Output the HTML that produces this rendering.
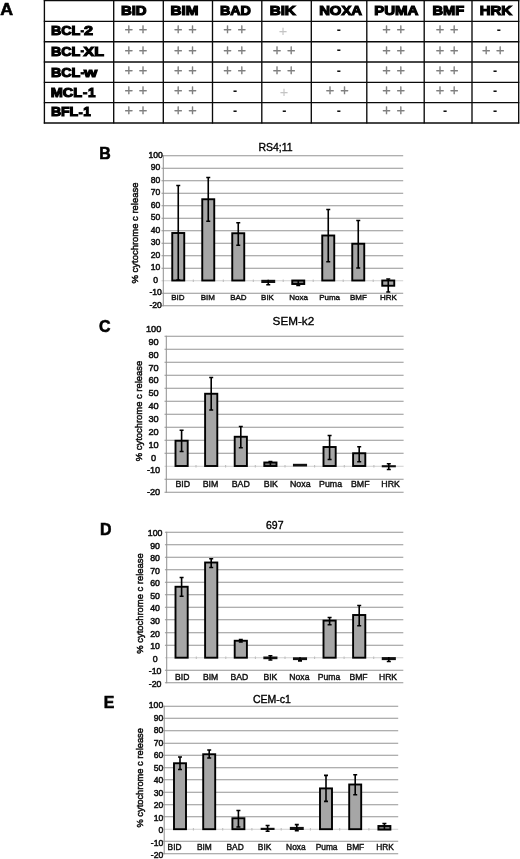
<!DOCTYPE html>
<html><head><meta charset="utf-8"><title>Figure</title>
<style>
html,body{margin:0;padding:0;background:#fff;}
body{width:520px;height:859px;overflow:hidden;}
svg{display:block;font-family:"Liberation Sans",Arial,sans-serif;}
.hd{font-weight:bold;font-size:13.5px;fill:#000;stroke:#000;stroke-width:1.15px;stroke-linejoin:miter;}
.hy{stroke-width:0.8px;}
.pl{font-size:14.6px;fill:#808080;stroke:#808080;stroke-width:0.3px;text-anchor:middle;}
.pll{font-size:14.6px;fill:#c4c4c4;text-anchor:middle;}
.mi{font-size:12.5px;font-weight:bold;fill:#111;text-anchor:middle;}
.pan{font-weight:bold;font-size:17.4px;fill:#000;stroke:#000;stroke-width:0.6px;}
.tt{fill:#000;text-anchor:middle;stroke:#000;stroke-width:0.35px;}
.yl{fill:#111;stroke:#111;stroke-width:0.5px;}
.xl{fill:#111;text-anchor:middle;stroke:#111;stroke-width:0.4px;}
.yt{fill:#111;text-anchor:middle;stroke:#111;stroke-width:0.5px;}
.g{stroke:#949494;stroke-width:1.05;fill:none;}
.z{stroke:#d0d0d0;stroke-width:1;fill:none;}
.bar{fill:#a6a6a6;stroke:#000;stroke-width:1.9;}
.eb{stroke:#000;stroke-width:1.6;fill:none;}
.tb{stroke:#0a0a0a;stroke-width:1.35;fill:none;}
</style></head><body>
<svg width="520" height="859" viewBox="0 0 520 859">
<rect width="520" height="859" fill="#fff"/>
<text class="pan" style="font-size:16.4px" x="0.2" y="14.8" textLength="12.8" lengthAdjust="spacingAndGlyphs">A</text>
<g class="tb">
<line x1="44.4" y1="0.0" x2="44.4" y2="123.6"/>
<line x1="113.7" y1="0.0" x2="113.7" y2="123.6"/>
<line x1="163.3" y1="0.0" x2="163.3" y2="123.6"/>
<line x1="212.5" y1="0.0" x2="212.5" y2="123.6"/>
<line x1="261.8" y1="0.0" x2="261.8" y2="123.6"/>
<line x1="311.3" y1="0.0" x2="311.3" y2="123.6"/>
<line x1="366.8" y1="0.0" x2="366.8" y2="123.6"/>
<line x1="424.2" y1="0.0" x2="424.2" y2="123.6"/>
<line x1="472" y1="0.0" x2="472" y2="123.6"/>
<line x1="518.7" y1="0.0" x2="518.7" y2="123.6"/>
<line x1="43.8" y1="0.6" x2="519.3000000000001" y2="0.6"/>
<line x1="43.8" y1="21.3" x2="519.3000000000001" y2="21.3"/>
<line x1="43.8" y1="41.7" x2="519.3000000000001" y2="41.7"/>
<line x1="43.8" y1="62" x2="519.3000000000001" y2="62"/>
<line x1="43.8" y1="82.4" x2="519.3000000000001" y2="82.4"/>
<line x1="43.8" y1="102.6" x2="519.3000000000001" y2="102.6"/>
<line x1="43.8" y1="123" x2="519.3000000000001" y2="123"/>
</g>
<text class="hd" x="120.9" y="15.2" textLength="25.7" lengthAdjust="spacingAndGlyphs">BID</text>
<text class="hd" x="170.4" y="15.2" textLength="27.95" lengthAdjust="spacingAndGlyphs">BIM</text>
<text class="hd" x="219.9" y="15.2" textLength="30.95" lengthAdjust="spacingAndGlyphs">BAD</text>
<text class="hd" x="269.65" y="15.2" textLength="26.2" lengthAdjust="spacingAndGlyphs">BIK</text>
<text class="hd" x="319.15" y="15.2" textLength="42.95" lengthAdjust="spacingAndGlyphs">NOXA</text>
<text class="hd" x="374.15" y="15.2" textLength="44.2" lengthAdjust="spacingAndGlyphs">PUMA</text>
<text class="hd" x="432.4" y="15.2" textLength="31.7" lengthAdjust="spacingAndGlyphs">BMF</text>
<text class="hd" x="479.65" y="15.2" textLength="32.45" lengthAdjust="spacingAndGlyphs">HRK</text>
<text class="hd" y="35.2"><tspan x="50.9" textLength="29.3" lengthAdjust="spacingAndGlyphs">BCL</tspan><tspan class="hy" x="80.45" y="34.5" textLength="3.5" lengthAdjust="spacingAndGlyphs">-</tspan><tspan x="84.0" y="35.2" textLength="9.0" lengthAdjust="spacingAndGlyphs">2</tspan></text>
<text class="hd" y="55.7"><tspan x="50.9" textLength="29.3" lengthAdjust="spacingAndGlyphs">BCL</tspan><tspan class="hy" x="80.45" y="55.0" textLength="3.5" lengthAdjust="spacingAndGlyphs">-</tspan><tspan x="83.6" y="55.7" textLength="20.4" lengthAdjust="spacingAndGlyphs">XL</tspan></text>
<text class="hd" y="76.9"><tspan x="50.9" textLength="29.3" lengthAdjust="spacingAndGlyphs">BCL</tspan><tspan class="hy" x="80.45" y="76.6" textLength="3.7" lengthAdjust="spacingAndGlyphs">-</tspan><tspan x="84.0" y="76.9" textLength="13.2" lengthAdjust="spacingAndGlyphs">w</tspan></text>
<text class="hd" y="97.0"><tspan x="50.8" textLength="31.4" lengthAdjust="spacingAndGlyphs">MCL</tspan><tspan class="hy" x="82.8" y="97.1" textLength="4.7" lengthAdjust="spacingAndGlyphs">-</tspan><tspan x="88.0" y="97.0" textLength="7.5" lengthAdjust="spacingAndGlyphs">1</tspan></text>
<text class="hd" y="116.4"><tspan x="50.9" textLength="27.3" lengthAdjust="spacingAndGlyphs">BFL</tspan><tspan class="hy" x="78.5" y="116.8" textLength="4.3" lengthAdjust="spacingAndGlyphs">-</tspan><tspan x="83.3" y="116.4" textLength="7.5" lengthAdjust="spacingAndGlyphs">1</tspan></text>
<text class="pl" x="128.75 135.875 143" y="34.4">+ +</text>
<text class="pl" x="128.75 135.875 143" y="54.6">+ +</text>
<text class="pl" x="128.75 135.875 143" y="75.19999999999999">+ +</text>
<text class="pl" x="128.75 135.875 143" y="95.3">+ +</text>
<text class="pl" x="128.75 135.875 143" y="115.3">+ +</text>
<text class="pl" x="178.25 185.375 192.5" y="34.4">+ +</text>
<text class="pl" x="178.25 185.375 192.5" y="54.6">+ +</text>
<text class="pl" x="178.25 185.375 192.5" y="75.19999999999999">+ +</text>
<text class="pl" x="178.25 185.375 192.5" y="95.3">+ +</text>
<text class="pl" x="178.25 185.375 192.5" y="115.3">+ +</text>
<text class="pl" x="227.5 234.625 241.75" y="34.4">+ +</text>
<text class="pl" x="227.5 234.625 241.75" y="54.6">+ +</text>
<text class="pl" x="227.5 234.625 241.75" y="75.19999999999999">+ +</text>
<text class="mi" x="235.2" y="95.0">-</text>
<text class="mi" x="235.2" y="115.0">-</text>
<text class="pll" x="283.0" y="36.2">+</text>
<text class="pl" x="277 284.125 291.25" y="54.6">+ +</text>
<text class="pl" x="277 284.125 291.25" y="75.19999999999999">+ +</text>
<text class="pll" x="284.0" y="97.1">+</text>
<text class="mi" x="284.4" y="115.0">-</text>
<text class="mi" x="338.9" y="34.1">-</text>
<text class="mi" x="338.9" y="54.3">-</text>
<text class="mi" x="338.9" y="74.89999999999999">-</text>
<text class="pl" x="330 337.25 344.5" y="95.3">+ +</text>
<text class="mi" x="338.9" y="115.0">-</text>
<text class="pl" x="386.5 393.625 400.75" y="34.4">+ +</text>
<text class="pl" x="386.5 393.625 400.75" y="54.6">+ +</text>
<text class="pl" x="386.5 393.625 400.75" y="75.19999999999999">+ +</text>
<text class="pl" x="386.5 393.625 400.75" y="95.3">+ +</text>
<text class="pl" x="386.5 393.625 400.75" y="115.3">+ +</text>
<text class="pl" x="440 447.125 454.25" y="34.4">+ +</text>
<text class="pl" x="440 447.125 454.25" y="54.6">+ +</text>
<text class="pl" x="440 447.125 454.25" y="75.19999999999999">+ +</text>
<text class="pl" x="440 447.125 454.25" y="95.3">+ +</text>
<text class="mi" x="445.1" y="115.0">-</text>
<text class="mi" x="498.8" y="34.1">-</text>
<text class="pl" x="486.25 493.25 500.25" y="54.6">+ +</text>
<text class="mi" x="495" y="74.89999999999999">-</text>
<text class="mi" x="495" y="95.0">-</text>
<text class="mi" x="495" y="115.0">-</text>
<g>
<text class="pan" x="99.2" y="158.5" textLength="11.5" lengthAdjust="spacingAndGlyphs">B</text>
<text class="tt" font-size="10.5" x="275.5" y="151.3">RS4;11</text>
<line class="g" x1="161.5" y1="155.75" x2="403.2" y2="155.75"/>
<line class="g" x1="161.5" y1="168.25" x2="403.2" y2="168.25"/>
<line class="g" x1="161.5" y1="180.75" x2="403.2" y2="180.75"/>
<line class="g" x1="161.5" y1="193.25" x2="403.2" y2="193.25"/>
<line class="g" x1="161.5" y1="205.75" x2="403.2" y2="205.75"/>
<line class="g" x1="161.5" y1="218.25" x2="403.2" y2="218.25"/>
<line class="g" x1="161.5" y1="230.75" x2="403.2" y2="230.75"/>
<line class="g" x1="161.5" y1="243.25" x2="403.2" y2="243.25"/>
<line class="g" x1="161.5" y1="255.75" x2="403.2" y2="255.75"/>
<line class="g" x1="161.5" y1="268.25" x2="403.2" y2="268.25"/>
<line class="z" x1="161.5" y1="280.75" x2="403.2" y2="280.75"/>
<line class="g" x1="161.5" y1="293.25" x2="403.2" y2="293.25"/>
<line class="g" x1="161.5" y1="305.75" x2="403.2" y2="305.75"/>
<line class="g" style="stroke:#bdbdbd" x1="193.3" y1="279.55" x2="193.3" y2="281.95"/>
<line class="g" style="stroke:#bdbdbd" x1="223.3" y1="279.55" x2="223.3" y2="281.95"/>
<line class="g" style="stroke:#bdbdbd" x1="253.3" y1="279.55" x2="253.3" y2="281.95"/>
<line class="g" style="stroke:#bdbdbd" x1="283.2" y1="279.55" x2="283.2" y2="281.95"/>
<line class="g" style="stroke:#bdbdbd" x1="313.2" y1="279.55" x2="313.2" y2="281.95"/>
<line class="g" style="stroke:#bdbdbd" x1="343.2" y1="279.55" x2="343.2" y2="281.95"/>
<line class="g" style="stroke:#bdbdbd" x1="373.2" y1="279.55" x2="373.2" y2="281.95"/>
<line class="g" x1="163.3" y1="155.25" x2="163.3" y2="306.25"/>
<text class="yl" text-anchor="middle" font-size="8.6" x="155.6" y="157.83">100</text>
<text class="yl" text-anchor="middle" font-size="8.6" x="155.6" y="170.33">90</text>
<text class="yl" text-anchor="middle" font-size="8.6" x="155.6" y="182.83">80</text>
<text class="yl" text-anchor="middle" font-size="8.6" x="155.6" y="195.33">70</text>
<text class="yl" text-anchor="middle" font-size="8.6" x="155.6" y="207.83">60</text>
<text class="yl" text-anchor="middle" font-size="8.6" x="155.6" y="220.33">50</text>
<text class="yl" text-anchor="middle" font-size="8.6" x="155.6" y="232.83">40</text>
<text class="yl" text-anchor="middle" font-size="8.6" x="155.6" y="245.33">30</text>
<text class="yl" text-anchor="middle" font-size="8.6" x="155.6" y="257.83">20</text>
<text class="yl" text-anchor="middle" font-size="8.6" x="155.6" y="270.33">10</text>
<text class="yl" text-anchor="middle" font-size="8.6" x="155.6" y="282.83">0</text>
<text class="yl" text-anchor="middle" font-size="8.6" x="155.6" y="295.33">-10</text>
<text class="yl" text-anchor="middle" font-size="8.6" x="155.6" y="307.83">-20</text>
<text class="yt" font-size="9.8" transform="translate(137.8,233) rotate(-90)" textLength="101" lengthAdjust="spacingAndGlyphs">% cytochrome c release</text>
<rect class="bar" x="172.25" y="233" width="12.0" height="47.5"/>
<path class="eb" d="M178.25 185.5V280.0M176.25 185.5H180.25M176.25 280.0H180.25"/>
<rect class="bar" x="202.25" y="199.25" width="12.0" height="81.25"/>
<path class="eb" d="M208.25 177.5V221.25M206.25 177.5H210.25M206.25 221.25H210.25"/>
<rect class="bar" x="232.25" y="233.25" width="12.0" height="47.25"/>
<path class="eb" d="M238.25 222.75V245.25M236.25 222.75H240.25M236.25 245.25H240.25"/>
<rect x="261.3" y="279.8" width="13.9" height="3.1999999999999886" fill="#111"/>
<path class="eb" d="M268.25 279.8V284.7M266.25 284.7H270.25"/>
<rect class="bar" style="fill:#777" x="292.25" y="280.5" width="12.0" height="3.5"/>
<path class="eb" d="M298.25 280.5V285.5M296.25 285.5H300.25"/>
<rect class="bar" x="322.25" y="235.5" width="12.0" height="45.0"/>
<path class="eb" d="M328.25 209.5V261.75M326.25 209.5H330.25M326.25 261.75H330.25"/>
<rect class="bar" x="352.25" y="243.75" width="12.0" height="36.75"/>
<path class="eb" d="M358.25 220.5V268M356.25 220.5H360.25M356.25 268H360.25"/>
<rect class="bar" x="382.25" y="280.5" width="12.0" height="5.25"/>
<path class="eb" d="M388.25 279V292M386.25 279H390.25M386.25 292H390.25"/>
<text class="xl" font-size="8.0" x="177.9" y="300.36">BID</text>
<text class="xl" font-size="8.0" x="207.9" y="300.36">BIM</text>
<text class="xl" font-size="8.0" x="238.4" y="300.36">BAD</text>
<text class="xl" font-size="8.0" x="267.5" y="300.36">BIK</text>
<text class="xl" font-size="8.0" x="298.6" y="300.36">Noxa</text>
<text class="xl" font-size="8.0" x="329.6" y="300.36">Puma</text>
<text class="xl" font-size="8.0" x="358.4" y="300.36">BMF</text>
<text class="xl" font-size="8.0" x="388.4" y="300.36">HRK</text>
</g>
<g>
<text class="pan" x="99.1" y="331.8" textLength="11.5" lengthAdjust="spacingAndGlyphs">C</text>
<text class="tt" font-size="11.7" x="293.4" y="325.1">SEM-k2</text>
<line class="g" x1="164.5" y1="336.25" x2="403.6" y2="336.25"/>
<line class="g" x1="164.5" y1="349.25" x2="403.6" y2="349.25"/>
<line class="g" x1="164.5" y1="362.25" x2="403.6" y2="362.25"/>
<line class="g" x1="164.5" y1="375.25" x2="403.6" y2="375.25"/>
<line class="g" x1="164.5" y1="388.25" x2="403.6" y2="388.25"/>
<line class="g" x1="164.5" y1="401.25" x2="403.6" y2="401.25"/>
<line class="g" x1="164.5" y1="414.25" x2="403.6" y2="414.25"/>
<line class="g" x1="164.5" y1="427.25" x2="403.6" y2="427.25"/>
<line class="g" x1="164.5" y1="440.25" x2="403.6" y2="440.25"/>
<line class="g" x1="164.5" y1="453.25" x2="403.6" y2="453.25"/>
<line class="z" x1="164.5" y1="466.25" x2="403.6" y2="466.25"/>
<line class="g" x1="164.5" y1="479.25" x2="403.6" y2="479.25"/>
<line class="g" x1="164.5" y1="492.25" x2="403.6" y2="492.25"/>
<line class="g" style="stroke:#bdbdbd" x1="196.0" y1="465.05" x2="196.0" y2="467.45"/>
<line class="g" style="stroke:#bdbdbd" x1="225.6" y1="465.05" x2="225.6" y2="467.45"/>
<line class="g" style="stroke:#bdbdbd" x1="255.3" y1="465.05" x2="255.3" y2="467.45"/>
<line class="g" style="stroke:#bdbdbd" x1="285.0" y1="465.05" x2="285.0" y2="467.45"/>
<line class="g" style="stroke:#bdbdbd" x1="314.6" y1="465.05" x2="314.6" y2="467.45"/>
<line class="g" style="stroke:#bdbdbd" x1="344.3" y1="465.05" x2="344.3" y2="467.45"/>
<line class="g" style="stroke:#bdbdbd" x1="373.9" y1="465.05" x2="373.9" y2="467.45"/>
<line class="g" x1="166.3" y1="335.75" x2="166.3" y2="492.75"/>
<text class="yl" text-anchor="middle" font-size="9.2" x="153.6" y="332.09">100</text>
<text class="yl" text-anchor="middle" font-size="9.2" x="153.6" y="344.94">90</text>
<text class="yl" text-anchor="middle" font-size="9.2" x="153.6" y="357.79">80</text>
<text class="yl" text-anchor="middle" font-size="9.2" x="153.6" y="370.64">70</text>
<text class="yl" text-anchor="middle" font-size="9.2" x="153.6" y="383.49">60</text>
<text class="yl" text-anchor="middle" font-size="9.2" x="153.6" y="396.34">50</text>
<text class="yl" text-anchor="middle" font-size="9.2" x="153.6" y="409.19">40</text>
<text class="yl" text-anchor="middle" font-size="9.2" x="153.6" y="422.04">30</text>
<text class="yl" text-anchor="middle" font-size="9.2" x="153.6" y="434.89">20</text>
<text class="yl" text-anchor="middle" font-size="9.2" x="153.6" y="447.74">10</text>
<text class="yl" text-anchor="middle" font-size="9.2" x="153.6" y="460.59">0</text>
<text class="yl" text-anchor="middle" font-size="9.2" x="153.6" y="473.44">-10</text>
<text class="yl" text-anchor="middle" font-size="9.2" x="153.6" y="494.99">-20</text>
<text class="yt" font-size="9.8" transform="translate(142,411) rotate(-90)" textLength="100.5" lengthAdjust="spacingAndGlyphs">% cytochrome c release</text>
<rect class="bar" x="175.5" y="440.75" width="12.2" height="25.25"/>
<path class="eb" d="M181.6 430.25V451.5M179.6 430.25H183.6M179.6 451.5H183.6"/>
<rect class="bar" x="205.1" y="393.75" width="12.2" height="72.25"/>
<path class="eb" d="M211.2 377.5V410M209.2 377.5H213.2M209.2 410H213.2"/>
<rect class="bar" x="234.70000000000002" y="436.75" width="12.2" height="29.25"/>
<path class="eb" d="M240.8 426.5V447.75M238.8 426.5H242.8M238.8 447.75H242.8"/>
<rect class="bar" style="fill:#777" x="264.29999999999995" y="462.5" width="12.2" height="3.5"/>
<path class="eb" d="M270.4 466.0V461.5M268.4 461.5H272.4"/>
<rect x="292.95" y="463.8" width="14.1" height="2.6999999999999886" fill="#111"/>
<rect class="bar" x="323.5" y="447" width="12.2" height="19"/>
<path class="eb" d="M329.6 435.5V459.5M327.6 435.5H331.6M327.6 459.5H331.6"/>
<rect class="bar" x="353.1" y="453.25" width="12.2" height="12.75"/>
<path class="eb" d="M359.20000000000005 446.75V461.75M357.20000000000005 446.75H361.20000000000005M357.20000000000005 461.75H361.20000000000005"/>
<rect x="381.75" y="465.2" width="14.1" height="2.1000000000000227" fill="#111"/>
<path class="eb" d="M388.8 463.75V469.5M386.8 463.75H390.8M386.8 469.5H390.8"/>
<text class="xl" font-size="8.8" x="182.75" y="487.45">BID</text>
<text class="xl" font-size="8.8" x="210.5" y="487.45">BIM</text>
<text class="xl" font-size="8.8" x="240.8" y="487.45">BAD</text>
<text class="xl" font-size="8.8" x="270.9" y="487.45">BIK</text>
<text class="xl" font-size="8.8" x="300.3" y="487.45">Noxa</text>
<text class="xl" font-size="8.8" x="330.6" y="487.45">Puma</text>
<text class="xl" font-size="8.8" x="360.25" y="487.45">BMF</text>
<text class="xl" font-size="8.8" x="390.6" y="487.45">HRK</text>
</g>
<g>
<text class="pan" x="100.1" y="535.0" textLength="11.5" lengthAdjust="spacingAndGlyphs">D</text>
<text class="tt" font-size="10.5" x="274.8" y="528.7">697</text>
<line class="g" x1="164.89999999999998" y1="532.25" x2="403.3" y2="532.25"/>
<line class="g" x1="164.89999999999998" y1="544.75" x2="403.3" y2="544.75"/>
<line class="g" x1="164.89999999999998" y1="557.25" x2="403.3" y2="557.25"/>
<line class="g" x1="164.89999999999998" y1="569.75" x2="403.3" y2="569.75"/>
<line class="g" x1="164.89999999999998" y1="582.25" x2="403.3" y2="582.25"/>
<line class="g" x1="164.89999999999998" y1="594.75" x2="403.3" y2="594.75"/>
<line class="g" x1="164.89999999999998" y1="607.25" x2="403.3" y2="607.25"/>
<line class="g" x1="164.89999999999998" y1="619.75" x2="403.3" y2="619.75"/>
<line class="g" x1="164.89999999999998" y1="632.75" x2="403.3" y2="632.75"/>
<line class="g" x1="164.89999999999998" y1="645.25" x2="403.3" y2="645.25"/>
<line class="z" x1="164.89999999999998" y1="657.75" x2="403.3" y2="657.75"/>
<line class="g" x1="164.89999999999998" y1="670.25" x2="403.3" y2="670.25"/>
<line class="g" x1="164.89999999999998" y1="682.75" x2="403.3" y2="682.75"/>
<line class="g" style="stroke:#bdbdbd" x1="196.3" y1="656.55" x2="196.3" y2="658.95"/>
<line class="g" style="stroke:#bdbdbd" x1="225.8" y1="656.55" x2="225.8" y2="658.95"/>
<line class="g" style="stroke:#bdbdbd" x1="255.4" y1="656.55" x2="255.4" y2="658.95"/>
<line class="g" style="stroke:#bdbdbd" x1="285.0" y1="656.55" x2="285.0" y2="658.95"/>
<line class="g" style="stroke:#bdbdbd" x1="314.6" y1="656.55" x2="314.6" y2="658.95"/>
<line class="g" style="stroke:#bdbdbd" x1="344.1" y1="656.55" x2="344.1" y2="658.95"/>
<line class="g" style="stroke:#bdbdbd" x1="373.7" y1="656.55" x2="373.7" y2="658.95"/>
<line class="g" x1="166.7" y1="531.75" x2="166.7" y2="683.25"/>
<text class="yl" text-anchor="middle" font-size="8.8" x="155.1" y="536.2">100</text>
<text class="yl" text-anchor="middle" font-size="8.8" x="155.1" y="548.7">90</text>
<text class="yl" text-anchor="middle" font-size="8.8" x="155.1" y="561.2">80</text>
<text class="yl" text-anchor="middle" font-size="8.8" x="155.1" y="573.7">70</text>
<text class="yl" text-anchor="middle" font-size="8.8" x="155.1" y="586.2">60</text>
<text class="yl" text-anchor="middle" font-size="8.8" x="155.1" y="598.7">50</text>
<text class="yl" text-anchor="middle" font-size="8.8" x="155.1" y="611.2">40</text>
<text class="yl" text-anchor="middle" font-size="8.8" x="155.1" y="623.7">30</text>
<text class="yl" text-anchor="middle" font-size="8.8" x="155.1" y="636.7">20</text>
<text class="yl" text-anchor="middle" font-size="8.8" x="155.1" y="649.2">10</text>
<text class="yl" text-anchor="middle" font-size="8.8" x="155.1" y="661.7">0</text>
<text class="yl" text-anchor="middle" font-size="8.8" x="155.1" y="674.2">-10</text>
<text class="yl" text-anchor="middle" font-size="8.8" x="155.1" y="686.7">-20</text>
<text class="yt" font-size="9.8" transform="translate(143.4,603.5) rotate(-90)" textLength="100.5" lengthAdjust="spacingAndGlyphs">% cytochrome c release</text>
<rect class="bar" x="175.5" y="586.75" width="12.2" height="70.95000000000005"/>
<path class="eb" d="M181.6 577.5V596.25M179.6 577.5H183.6M179.6 596.25H183.6"/>
<rect class="bar" x="205.1" y="562.5" width="12.2" height="95.20000000000005"/>
<path class="eb" d="M211.2 558.75V567.5M209.2 558.75H213.2M209.2 567.5H213.2"/>
<rect class="bar" x="234.70000000000002" y="640.75" width="12.2" height="16.950000000000045"/>
<path class="eb" d="M240.8 639.5V642M238.8 639.5H242.8M238.8 642H242.8"/>
<rect x="263.34999999999997" y="656.5" width="14.1" height="2.7000000000000455" fill="#111"/>
<path class="eb" d="M270.4 655.7V660.0M268.4 655.7H272.4M268.4 660.0H272.4"/>
<rect x="292.95" y="657.3" width="14.1" height="2.800000000000068" fill="#111"/>
<path class="eb" d="M300.0 657.3V660.9M298.0 660.9H302.0"/>
<rect class="bar" x="323.5" y="620.6" width="12.2" height="37.10000000000002"/>
<path class="eb" d="M329.6 617.5V624.8M327.6 617.5H331.6M327.6 624.8H331.6"/>
<rect class="bar" x="353.1" y="615" width="12.2" height="42.700000000000045"/>
<path class="eb" d="M359.20000000000005 605.5V625.75M357.20000000000005 605.5H361.20000000000005M357.20000000000005 625.75H361.20000000000005"/>
<rect x="381.75" y="657.1" width="14.1" height="3.0" fill="#111"/>
<path class="eb" d="M388.8 657.1V661.5M386.8 661.5H390.8"/>
<text class="xl" font-size="8.6" x="182.2" y="680.08">BID</text>
<text class="xl" font-size="8.6" x="210.6" y="680.08">BIM</text>
<text class="xl" font-size="8.6" x="239.4" y="680.08">BAD</text>
<text class="xl" font-size="8.6" x="270.4" y="680.08">BIK</text>
<text class="xl" font-size="8.6" x="299.4" y="680.08">Noxa</text>
<text class="xl" font-size="8.6" x="329" y="680.08">Puma</text>
<text class="xl" font-size="8.6" x="358.5" y="680.08">BMF</text>
<text class="xl" font-size="8.6" x="388" y="680.08">HRK</text>
</g>
<g>
<text class="pan" x="103.8" y="708.3" textLength="10.6" lengthAdjust="spacingAndGlyphs">E</text>
<text class="tt" font-size="10.5" x="272" y="703">CEM-c1</text>
<line class="g" x1="162.39999999999998" y1="706.25" x2="398.2" y2="706.25"/>
<line class="g" x1="162.39999999999998" y1="718.25" x2="398.2" y2="718.25"/>
<line class="g" x1="162.39999999999998" y1="730.75" x2="398.2" y2="730.75"/>
<line class="g" x1="162.39999999999998" y1="743.25" x2="398.2" y2="743.25"/>
<line class="g" x1="162.39999999999998" y1="755.25" x2="398.2" y2="755.25"/>
<line class="g" x1="162.39999999999998" y1="767.75" x2="398.2" y2="767.75"/>
<line class="g" x1="162.39999999999998" y1="779.75" x2="398.2" y2="779.75"/>
<line class="g" x1="162.39999999999998" y1="792.25" x2="398.2" y2="792.25"/>
<line class="g" x1="162.39999999999998" y1="804.75" x2="398.2" y2="804.75"/>
<line class="g" x1="162.39999999999998" y1="816.75" x2="398.2" y2="816.75"/>
<line class="z" x1="162.39999999999998" y1="829.25" x2="398.2" y2="829.25"/>
<line class="g" x1="162.39999999999998" y1="841.25" x2="398.2" y2="841.25"/>
<line class="g" x1="162.39999999999998" y1="853.75" x2="398.2" y2="853.75"/>
<line class="g" style="stroke:#bdbdbd" x1="193.4" y1="828.05" x2="193.4" y2="830.45"/>
<line class="g" style="stroke:#bdbdbd" x1="222.7" y1="828.05" x2="222.7" y2="830.45"/>
<line class="g" style="stroke:#bdbdbd" x1="251.9" y1="828.05" x2="251.9" y2="830.45"/>
<line class="g" style="stroke:#bdbdbd" x1="281.2" y1="828.05" x2="281.2" y2="830.45"/>
<line class="g" style="stroke:#bdbdbd" x1="310.4" y1="828.05" x2="310.4" y2="830.45"/>
<line class="g" style="stroke:#bdbdbd" x1="339.7" y1="828.05" x2="339.7" y2="830.45"/>
<line class="g" style="stroke:#bdbdbd" x1="368.9" y1="828.05" x2="368.9" y2="830.45"/>
<line class="g" x1="164.2" y1="705.75" x2="164.2" y2="854.25"/>
<text class="yl" text-anchor="end" font-size="8.6" x="163.2" y="708.18">100</text>
<text class="yl" text-anchor="end" font-size="8.6" x="163.2" y="720.68">90</text>
<text class="yl" text-anchor="end" font-size="8.6" x="163.2" y="733.18">80</text>
<text class="yl" text-anchor="end" font-size="8.6" x="163.2" y="745.68">70</text>
<text class="yl" text-anchor="end" font-size="8.6" x="163.2" y="758.18">60</text>
<text class="yl" text-anchor="end" font-size="8.6" x="163.2" y="770.68">50</text>
<text class="yl" text-anchor="end" font-size="8.6" x="163.2" y="783.18">40</text>
<text class="yl" text-anchor="end" font-size="8.6" x="163.2" y="795.68">30</text>
<text class="yl" text-anchor="end" font-size="8.6" x="163.2" y="808.18">20</text>
<text class="yl" text-anchor="end" font-size="8.6" x="163.2" y="820.68">10</text>
<text class="yl" text-anchor="end" font-size="8.6" x="163.2" y="833.18">0</text>
<text class="yl" text-anchor="end" font-size="8.6" x="163.2" y="845.68">-10</text>
<text class="yl" text-anchor="end" font-size="8.6" x="163.2" y="858.18">-20</text>
<text class="yt" font-size="9.8" transform="translate(142.6,777.8) rotate(-90)" textLength="99.5" lengthAdjust="spacingAndGlyphs">% cytochrome c release</text>
<rect class="bar" x="174.0" y="763.25" width="12.0" height="65.95000000000005"/>
<path class="eb" d="M180.0 757V769.5M178.0 757H182.0M178.0 769.5H182.0"/>
<rect class="bar" x="203.2" y="754.25" width="12.0" height="74.95000000000005"/>
<path class="eb" d="M209.2 750V758M207.2 750H211.2M207.2 758H211.2"/>
<rect class="bar" x="232.4" y="818.25" width="12.0" height="10.950000000000045"/>
<path class="eb" d="M238.4 810.5V827M236.4 810.5H240.4M236.4 827H240.4"/>
<rect x="260.65000000000003" y="827.8" width="13.9" height="2.2000000000000455" fill="#111"/>
<path class="eb" d="M267.6 825.5V831.3M265.6 825.5H269.6M265.6 831.3H269.6"/>
<rect x="289.85" y="826.9" width="13.9" height="3.1000000000000227" fill="#111"/>
<path class="eb" d="M296.8 824.6V830.6M294.8 824.6H298.8M294.8 830.6H298.8"/>
<rect class="bar" x="320.0" y="788.4" width="12.0" height="40.80000000000007"/>
<path class="eb" d="M326.0 775.4V801.4M324.0 775.4H328.0M324.0 801.4H328.0"/>
<rect class="bar" x="349.2" y="784.5" width="12.0" height="44.700000000000045"/>
<path class="eb" d="M355.2 774.75V794.75M353.2 774.75H357.2M353.2 794.75H357.2"/>
<rect class="bar" style="fill:#777" x="378.4" y="826" width="12.0" height="3.6000000000000227"/>
<path class="eb" d="M384.4 829.6V823.5M382.4 823.5H386.4"/>
<text class="xl" font-size="8.4" x="174.6" y="850.21">BID</text>
<text class="xl" font-size="8.4" x="204.4" y="850.21">BIM</text>
<text class="xl" font-size="8.4" x="235.1" y="850.21">BAD</text>
<text class="xl" font-size="8.4" x="264.6" y="850.21">BIK</text>
<text class="xl" font-size="8.4" x="295.9" y="850.21">Noxa</text>
<text class="xl" font-size="8.4" x="326.6" y="850.21">Puma</text>
<text class="xl" font-size="8.4" x="355.4" y="850.21">BMF</text>
<text class="xl" font-size="8.4" x="385" y="850.21">HRK</text>
</g>
</svg></body></html>
